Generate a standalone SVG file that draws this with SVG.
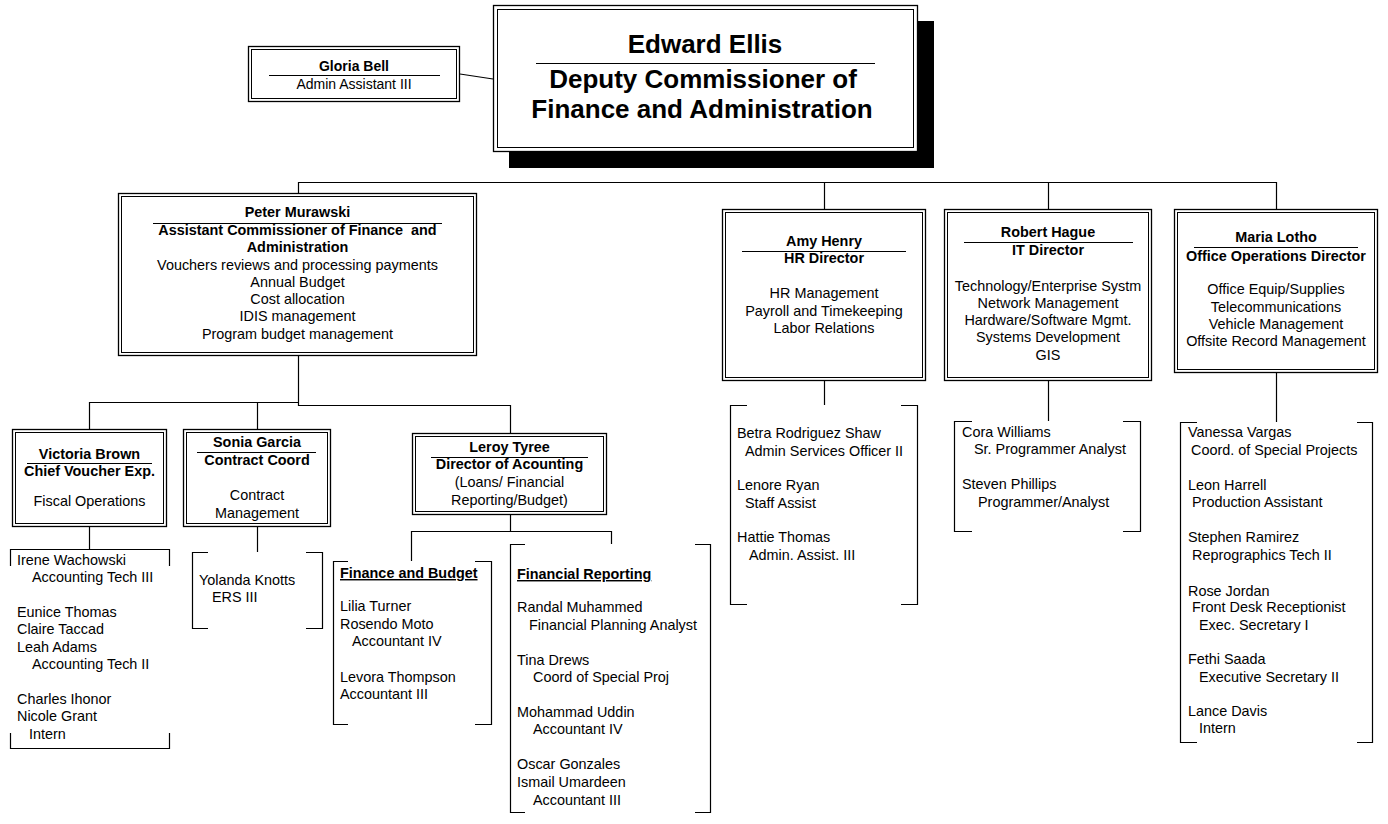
<svg xmlns="http://www.w3.org/2000/svg" width="1388" height="824" viewBox="0 0 1388 824">
  <style>
    text { font-family: "Liberation Sans", Arial, sans-serif; fill: #000; }
    .n { font-size: 14.4px; }
    .b { font-size: 14.4px; font-weight: bold; }
    .c { text-anchor: middle; }
    .u { text-decoration: underline; }
    .pre { white-space: pre; }
    .big { font-size: 26px; font-weight: bold; text-anchor: middle; }
    .o { fill: #fff; stroke: #000; stroke-width: 1.3; }
    .i { fill: none; stroke: #000; stroke-width: 1; }
    .rule { stroke: #000; stroke-width: 1.2; }
    .conn path, .conn line { fill: none; stroke: #000; stroke-width: 1.2; }
    .br { fill: none; stroke: #000; stroke-width: 1.2; }
  </style>

  <rect width="1388" height="824" fill="#fff"/>

  <!-- connectors -->
  <g id="connectors" class="conn">
    <line x1="460" y1="74" x2="493" y2="79"/>
    <!-- top bus -->
    <path d="M298.5,193 V182.5 H1276.5 V209"/>
    <path d="M824.5,182.5 V209"/>
    <path d="M1048.5,182.5 V209"/>
    <!-- Peter to his reports -->
    <path d="M298.5,356 V405.5 H510.5 V433"/>
    <path d="M89.5,429 V402.5 H298.5"/>
    <path d="M257.5,402.5 V429"/>
    <!-- supervisors to staff lists -->
    <path d="M89.5,527 V549"/>
    <path d="M257.5,527 V552"/>
    <path d="M510.5,515 V531.5 M411.5,561 V531.5 H611.5 V544"/>
    <path d="M824.5,381 V405"/>
    <path d="M1048.5,381 V421"/>
    <path d="M1276.5,373 V422"/>
  </g>

  <!-- Gloria Bell -->
  <g id="gloria-bell">
    <rect class="o" x="248.5" y="46.5" width="211" height="55"/>
    <rect class="i" x="251.5" y="49.5" width="205" height="49"/>
    <text class="b c" x="354" y="71" style="font-size:14px">Gloria Bell</text>
    <line class="rule" x1="269" y1="75.5" x2="440" y2="75.5"/>
    <text class="n c" x="354" y="89" style="font-size:14px">Admin Assistant III</text>
  </g>

  <!-- Edward Ellis -->
  <g id="edward-ellis">
    <rect x="509" y="21" width="425" height="147" fill="#000"/>
    <rect class="o" x="493.5" y="5.5" width="424" height="146"/>
    <rect class="i" x="497.5" y="9.5" width="416" height="138"/>
    <text class="big" x="705" y="53">Edward Ellis</text>
    <line class="rule" x1="536" y1="63.5" x2="875" y2="63.5"/>
    <text class="big" x="703" y="88">Deputy Commissioner of</text>
    <text class="big" x="702" y="118">Finance and Administration</text>
  </g>

  <!-- Peter Murawski -->
  <g id="peter-murawski">
    <rect class="o" x="118.5" y="193.5" width="358" height="162"/>
    <rect class="i" x="121.5" y="196.5" width="352" height="156"/>
    <text class="b c" x="297.5" y="217">Peter Murawski</text>
    <line class="rule" x1="153" y1="223.5" x2="442" y2="223.5"/>
    <text class="b c pre" x="297.5" y="235">Assistant Commissioner of Finance  and</text>
    <text class="b c" x="297.5" y="252">Administration</text>
    <text class="n c" x="297.5" y="270">Vouchers reviews and processing payments</text>
    <text class="n c" x="297.5" y="287">Annual Budget</text>
    <text class="n c" x="297.5" y="304">Cost allocation</text>
    <text class="n c" x="297.5" y="321">IDIS management</text>
    <text class="n c" x="297.5" y="339">Program budget management</text>
  </g>

  <!-- Amy Henry -->
  <g id="amy-henry">
    <rect class="o" x="722.5" y="209.5" width="203" height="171"/>
    <rect class="i" x="725.5" y="212.5" width="197" height="165"/>
    <text class="b c" x="824" y="246">Amy Henry</text>
    <line class="rule" x1="742" y1="251.5" x2="906" y2="251.5"/>
    <text class="b c" x="824" y="263">HR Director</text>
    <text class="n c" x="824" y="298">HR Management</text>
    <text class="n c" x="824" y="316">Payroll and Timekeeping</text>
    <text class="n c" x="824" y="333">Labor Relations</text>
  </g>

  <!-- Robert Hague -->
  <g id="robert-hague">
    <rect class="o" x="944.5" y="209.5" width="207" height="171"/>
    <rect class="i" x="947.5" y="212.5" width="201" height="165"/>
    <text class="b c" x="1048" y="237">Robert Hague</text>
    <line class="rule" x1="964" y1="242.5" x2="1133" y2="242.5"/>
    <text class="b c" x="1048" y="255">IT Director</text>
    <text class="n c" x="1048" y="291">Technology/Enterprise Systm</text>
    <text class="n c" x="1048" y="308">Network Management</text>
    <text class="n c" x="1048" y="325">Hardware/Software Mgmt.</text>
    <text class="n c" x="1048" y="342">Systems Development</text>
    <text class="n c" x="1048" y="360">GIS</text>
  </g>

  <!-- Maria Lotho -->
  <g id="maria-lotho">
    <rect class="o" x="1174.5" y="209.5" width="203" height="163"/>
    <rect class="i" x="1177.5" y="212.5" width="197" height="157"/>
    <text class="b c" x="1276" y="242">Maria Lotho</text>
    <line class="rule" x1="1194" y1="247.5" x2="1358" y2="247.5"/>
    <text class="b c" x="1276" y="261">Office Operations Director</text>
    <text class="n c" x="1276" y="294">Office Equip/Supplies</text>
    <text class="n c" x="1276" y="312">Telecommunications</text>
    <text class="n c" x="1276" y="329">Vehicle Management</text>
    <text class="n c" x="1276" y="346">Offsite Record Management</text>
  </g>

  <!-- Victoria Brown -->
  <g id="victoria-brown">
    <rect class="o" x="12.5" y="429.5" width="154" height="97"/>
    <rect class="i" x="15.5" y="432.5" width="148" height="91"/>
    <text class="b c" x="89.5" y="459">Victoria Brown</text>
    <line class="rule" x1="27" y1="463.5" x2="152" y2="463.5"/>
    <text class="b c" x="89.5" y="476">Chief Voucher Exp.</text>
    <text class="n c" x="89.5" y="506">Fiscal Operations</text>
  </g>

  <!-- Sonia Garcia -->
  <g id="sonia-garcia">
    <rect class="o" x="183.5" y="429.5" width="147" height="97"/>
    <rect class="i" x="186.5" y="432.5" width="141" height="91"/>
    <text class="b c" x="257" y="447">Sonia Garcia</text>
    <line class="rule" x1="197" y1="452.5" x2="316" y2="452.5"/>
    <text class="b c" x="257" y="465">Contract Coord</text>
    <text class="n c" x="257" y="500">Contract</text>
    <text class="n c" x="257" y="518">Management</text>
  </g>

  <!-- Leroy Tyree -->
  <g id="leroy-tyree">
    <rect class="o" x="412.5" y="433.5" width="194" height="81"/>
    <rect class="i" x="415.5" y="436.5" width="188" height="75"/>
    <text class="b c" x="509.5" y="452">Leroy Tyree</text>
    <line class="rule" x1="431" y1="457.5" x2="588" y2="457.5"/>
    <text class="b c" x="509.5" y="469">Director of Acounting</text>
    <text class="n c" x="509.5" y="487">(Loans/ Financial</text>
    <text class="n c" x="509.5" y="505">Reporting/Budget)</text>
  </g>

  <!-- Fiscal operations staff -->
  <g id="fiscal-staff">
    <path class="br" d="M10.5,566 V549.5 H169.5 V566 M10.5,733 V748.5 H169.5 V733"/>
    <text class="n" x="17" y="565">Irene Wachowski</text>
    <text class="n" x="32" y="582">Accounting Tech III</text>
    <text class="n" x="17" y="617">Eunice Thomas</text>
    <text class="n" x="17" y="634">Claire Taccad</text>
    <text class="n" x="17" y="652">Leah Adams</text>
    <text class="n" x="32" y="669">Accounting Tech II</text>
    <text class="n" x="17" y="704">Charles Ihonor</text>
    <text class="n" x="17" y="721">Nicole Grant</text>
    <text class="n" x="29" y="739">Intern</text>
  </g>

  <!-- Contract staff -->
  <g id="contract-staff">
    <path class="br" d="M208,552.5 H192.5 V628.5 H208 M306,552.5 H322.5 V628.5 H306"/>
    <text class="n" x="199" y="585">Yolanda Knotts</text>
    <text class="n" x="212" y="602">ERS III</text>
  </g>

  <!-- Finance and Budget staff -->
  <g id="finance-budget">
    <path class="br" d="M348,561.5 H333.5 V724.5 H348 M475,561.5 H491.5 V724.5 H475"/>
    <text class="b u" x="340" y="578">Finance and Budget</text>
    <text class="n" x="340" y="611">Lilia Turner</text>
    <text class="n" x="340" y="629">Rosendo Moto</text>
    <text class="n" x="352" y="646">Accountant IV</text>
    <text class="n" x="340" y="682">Levora Thompson</text>
    <text class="n" x="340" y="699">Accountant III</text>
  </g>

  <!-- Financial Reporting staff -->
  <g id="financial-reporting">
    <path class="br" d="M525,544.5 H510.5 V812.5 H525 M695,544.5 H710.5 V812.5 H695"/>
    <text class="b u" x="517" y="579">Financial Reporting</text>
    <text class="n" x="517" y="612">Randal Muhammed</text>
    <text class="n" x="529" y="630">Financial Planning Analyst</text>
    <text class="n" x="517" y="665">Tina Drews</text>
    <text class="n" x="533" y="682">Coord of Special Proj</text>
    <text class="n" x="517" y="717">Mohammad Uddin</text>
    <text class="n" x="533" y="734">Accountant IV</text>
    <text class="n" x="517" y="769">Oscar Gonzales</text>
    <text class="n" x="517" y="787">Ismail Umardeen</text>
    <text class="n" x="533" y="805">Accountant III</text>
  </g>

  <!-- HR staff -->
  <g id="hr-staff">
    <path class="br" d="M747,405.5 H730.5 V604.5 H747 M901,405.5 H917.5 V604.5 H901"/>
    <text class="n" x="737" y="438">Betra Rodriguez Shaw</text>
    <text class="n" x="745" y="456">Admin Services Officer II</text>
    <text class="n" x="737" y="490">Lenore Ryan</text>
    <text class="n" x="745" y="508">Staff Assist</text>
    <text class="n" x="737" y="542">Hattie Thomas</text>
    <text class="n" x="749" y="560">Admin. Assist. III</text>
  </g>

  <!-- IT staff -->
  <g id="it-staff">
    <path class="br" d="M972,421.5 H954.5 V531.5 H972 M1123,421.5 H1140.5 V531.5 H1123"/>
    <text class="n" x="962" y="437">Cora Williams</text>
    <text class="n" x="974" y="454">Sr. Programmer Analyst</text>
    <text class="n" x="962" y="489">Steven Phillips</text>
    <text class="n" x="978" y="507">Programmer/Analyst</text>
  </g>

  <!-- Office operations staff -->
  <g id="office-staff">
    <path class="br" d="M1197,422.5 H1180.5 V742.5 H1197 M1357,422.5 H1372.5 V742.5 H1357"/>
    <text class="n" x="1188" y="437">Vanessa Vargas</text>
    <text class="n" x="1191" y="455">Coord. of Special Projects</text>
    <text class="n" x="1188" y="490">Leon Harrell</text>
    <text class="n" x="1192" y="507">Production Assistant</text>
    <text class="n" x="1188" y="542">Stephen Ramirez</text>
    <text class="n" x="1192" y="560">Reprographics Tech II</text>
    <text class="n" x="1188" y="596">Rose Jordan</text>
    <text class="n" x="1192" y="612">Front Desk Receptionist</text>
    <text class="n" x="1199" y="630">Exec. Secretary I</text>
    <text class="n" x="1188" y="664">Fethi Saada</text>
    <text class="n" x="1199" y="682">Executive Secretary II</text>
    <text class="n" x="1188" y="716">Lance Davis</text>
    <text class="n" x="1199" y="733">Intern</text>
  </g>
</svg>
